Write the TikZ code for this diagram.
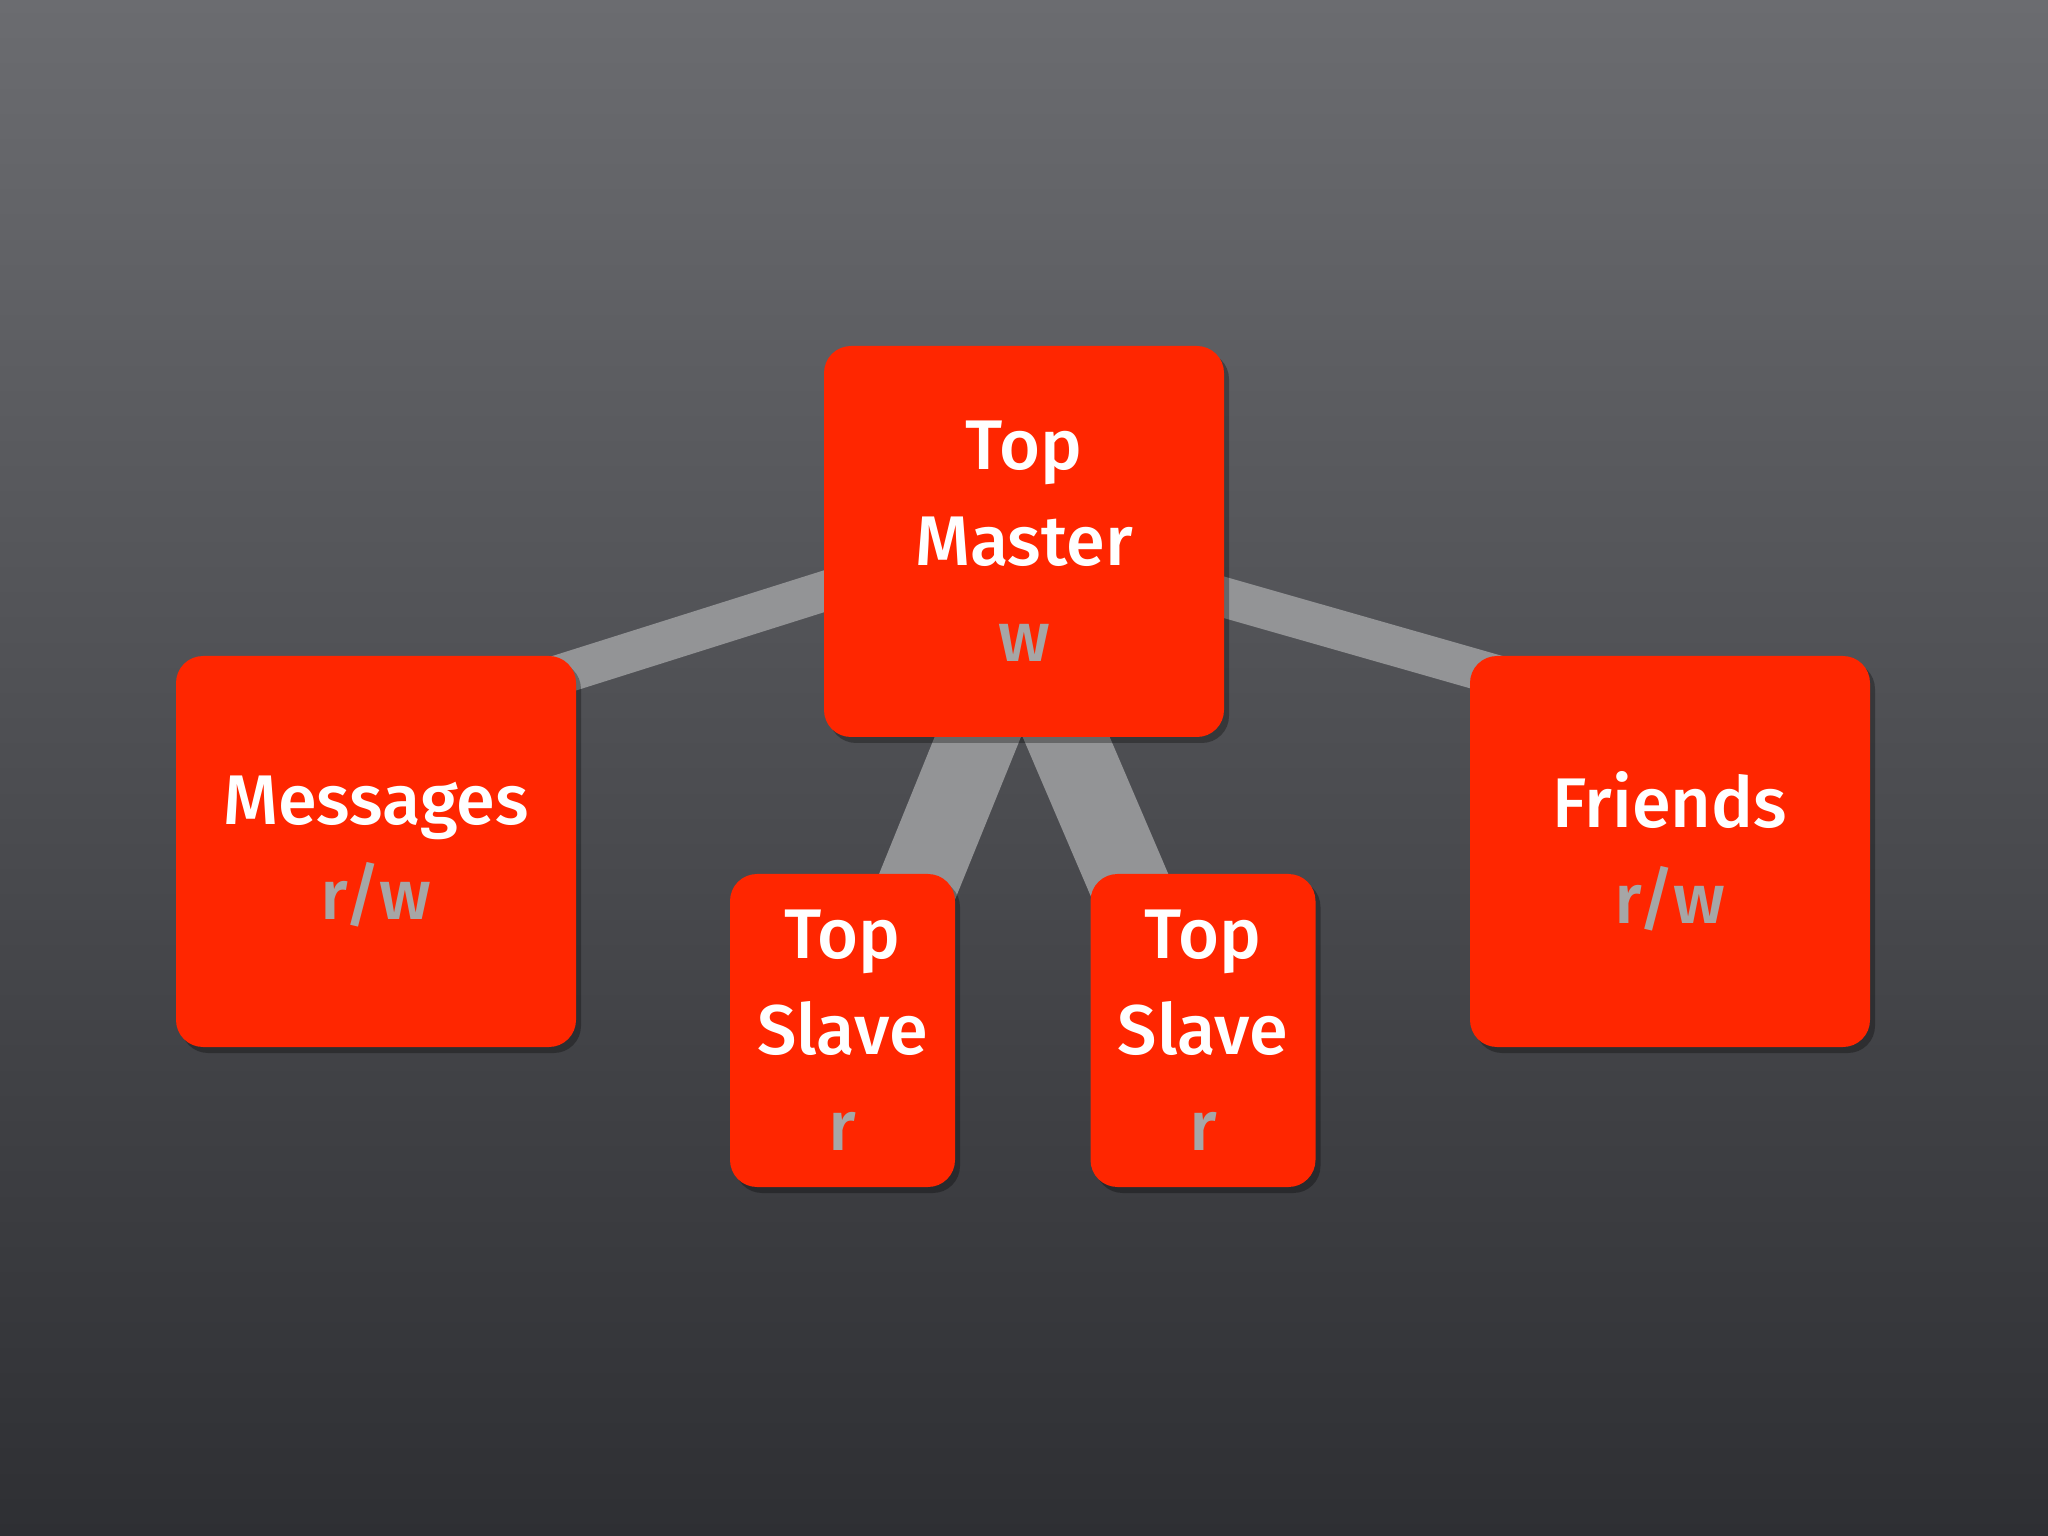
\documentclass[tikz,border=0pt]{standalone}
\usepackage{fontspec}
\IfFontExistsTF{Fira Sans Medium}
  {\setmainfont{Fira Sans Medium}}
  {\setmainfont{Fira Sans}[FakeBold=1.2]}
\usepackage{xcolor}
\usepackage{tikz}
\usetikzlibrary{calc,shadows,backgrounds}

\definecolor{boxred}{HTML}{FF2600}
\definecolor{bargrey}{HTML}{939496}
\definecolor{modegrey}{HTML}{A6A6A6}
\definecolor{boardtop}{HTML}{6B6C70}
\definecolor{boardmid}{HTML}{47484C}
\definecolor{boardbot}{HTML}{2E2F33}

\newcommand{\mode}[1]{{\color{modegrey}#1}}

\begin{document}
\begin{tikzpicture}[
    table/.style={fill=boxred, rounded corners=0.27cm, align=center,
      text=white, inner sep=0pt,
      font=\rmfamily\fontsize{20}{27.3}\selectfont,
      drop shadow={shadow xshift=0.05cm, shadow yshift=-0.06cm, opacity=0.3, fill=black}},
    bigbox/.style={table, minimum width=4.0cm, minimum height=3.91cm},
    slavebox/.style={table, minimum width=2.25cm, minimum height=3.13cm},
    link/.style={draw=bargrey, line width=0.40cm, shorten <=-0.8cm, shorten >=-0.8cm},
    slavelink/.style={link, line width=0.80cm}
  ]
    \useasboundingbox (0,0) rectangle (20.48,-15.36);

    \node[bigbox] (master) at (10.24,-5.415) {Top\\Master\\\mode{w}};
    \node[bigbox] (msgs) at (3.76,-8.515) {Messages\\\mode{r/w}};
    \node[bigbox] (friends) at (16.70,-8.515) {Friends\\\mode{r/w}};
    \node[slavebox] (slaveA) at (8.425,-10.305) {Top\\Slave\\\mode{r}};
    \node[slavebox] (slaveB) at (12.03,-10.305) {Top\\Slave\\\mode{r}};

    \coordinate (a1) at ([yshift=-0.14cm]msgs.north east);
    \coordinate (a2) at ([yshift=-0.50cm]master.west);
    \coordinate (b1) at ([yshift=-0.12cm]friends.north west);
    \coordinate (b2) at ([yshift=-0.56cm]master.east);
    \coordinate (c1) at ([xshift=0.80cm]slaveA.north);
    \coordinate (c2) at ([xshift=-0.465cm]master.south);
    \coordinate (d1) at ([xshift=-0.785cm]slaveB.north);
    \coordinate (d2) at ([xshift=0.425cm]master.south);

    \begin{scope}[on background layer]
      % chalkboard
      \shade[top color=boardtop, middle color=boardmid, bottom color=boardbot]
        (0,0) rectangle (20.48,-15.36);
      \draw[link] (a1) -- (a2);
      \draw[link] (b1) -- (b2);
      \draw[slavelink] (c1) -- (c2);
      \draw[slavelink] (d1) -- (d2);
    \end{scope}
  \end{tikzpicture}
\end{document}
